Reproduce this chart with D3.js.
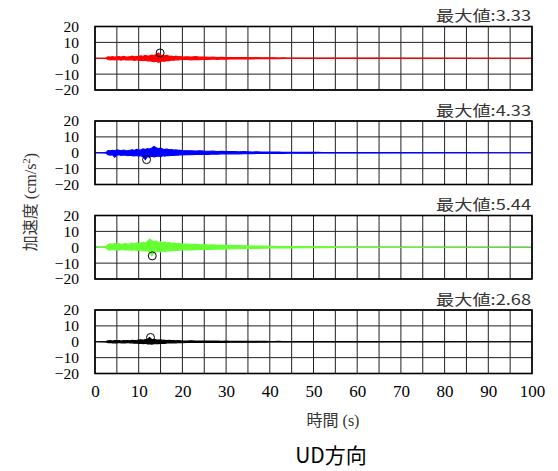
<!DOCTYPE html>
<html>
<head>
<meta charset="utf-8">
<script src="https://cdn.jsdelivr.net/npm/d3@7"></script>
<style>
  html, body { margin: 0; padding: 0; background: #fff; }
  svg { display: block; }
  svg text.serif, svg tspan.serif { font-family: "Liberation Serif", "Times New Roman", Times, "Tinos", "Noto Serif", "DejaVu Serif", serif; }
  svg text.cjk, svg tspan.cjk { font-family: "Noto Sans CJK JP", "Noto Sans", sans-serif; }
</style>
</head>
<body>
<svg id="chart" width="558" height="471"></svg>
<script>
// ---------------- DATA ----------------
const xTicks = [0, 10, 20, 30, 40, 50, 60, 70, 80, 90, 100];
const yTicks = [20, 10, 0, -10, -20];
const panelColors = ["#ff0000", "#0000ff", "#66ff33", "#000000"];
const maxLabels = ["最大値:3.33", "最大値:4.33", "最大値:5.44", "最大値:2.68"];
const peakTime = [14.9, 11.8, 13.1, 12.7];
const peakValue = [3.33, -4.33, -5.44, 2.68];

// sample times (s) of the read-off envelope
const times = [0,
  2.5,3,3.5,4,4.5,5,5.5,6,6.5,7,7.5,8,8.5,9,9.5,10,10.5,11,11.5,12,12.5,13,13.5,14,14.5,15,15.5,16,16.5,17,17.5,18,18.5,19,19.5,20,
  21,22,23,24,25,26,27,28,29,30,31,32,33,34,35,36,37,38,39,40,41,42,43,44,45,46,47,48,49,50,51,52,53,54,55,56,57,58,59,60,
  100];

// upper / lower peaks per sample (cm/s^2)
const redHi = [0,
  0.1,0.9,0.8,1.0,0.7,0.9,1.1,0.8,1.2,0.9,0.8,1.0,1.3,0.9,1.1,1.2,1.5,1.3,1.8,1.4,1.6,2.0,1.7,2.4,3.33,2.1,1.8,1.5,1.9,1.2,1.4,1.0,1.3,0.9,1.1,0.8,
  0.9,0.8,1.0,0.7,0.8,0.6,0.7,0.5,0.6,0.5,0.5,0.4,0.5,0.4,0.4,0.3,0.4,0.3,0.3,0.3,0.3,0.2,0.3,0.2,0.2,0.2,0.2,0.2,0.2,0.2,0.15,0.15,0.15,0.15,0.15,0.1,0.1,0.1,0.1,0.1,
  0];
const redLo = [0,
  -0.1,-0.8,-1.0,-0.7,-1.1,-0.8,-0.9,-1.2,-0.8,-1.0,-1.1,-0.9,-1.0,-1.3,-1.0,-1.4,-1.2,-1.6,-1.3,-1.7,-1.5,-1.9,-2.2,-1.8,-2.6,-2.0,-1.7,-1.9,-1.4,-1.5,-1.1,-1.3,-1.0,-1.1,-0.9,-0.8,
  -0.8,-1.0,-0.7,-0.9,-0.6,-0.8,-0.5,-0.7,-0.5,-0.6,-0.4,-0.5,-0.4,-0.4,-0.3,-0.4,-0.3,-0.3,-0.3,-0.3,-0.2,-0.3,-0.2,-0.2,-0.2,-0.2,-0.2,-0.2,-0.2,-0.2,-0.15,-0.15,-0.15,-0.15,-0.15,-0.1,-0.1,-0.1,-0.1,-0.1,
  0];
const blueHi = [0,
  0.2,1.4,1.2,1.6,1.3,1.8,1.5,1.2,1.7,1.4,1.3,1.6,1.9,1.5,2.2,1.7,1.9,2.4,2.0,2.6,2.3,3.0,4.0,3.1,2.6,2.9,2.4,2.1,2.3,1.9,2.0,1.7,1.8,1.5,1.6,1.4,
  1.3,1.2,1.1,1.2,1.0,0.9,1.0,0.8,0.9,0.7,0.8,0.7,0.6,0.7,0.6,0.5,0.6,0.5,0.5,0.4,0.4,0.4,0.35,0.35,0.3,0.3,0.3,0.3,0.25,0.25,0.25,0.2,0.2,0.2,0.2,0.2,0.15,0.15,0.15,0.15,
  0];
const blueLo = [0,
  -0.2,-1.3,-1.6,-1.2,-2.8,-1.5,-1.3,-1.7,-1.4,-1.6,-1.9,-1.5,-1.8,-2.0,-1.7,-2.2,-1.9,-2.5,-4.33,-2.4,-2.8,-2.2,-2.6,-2.3,-2.0,-2.4,-1.9,-2.1,-1.7,-1.9,-1.6,-1.7,-1.5,-1.6,-1.3,-1.4,
  -1.2,-1.3,-1.0,-1.1,-0.9,-1.0,-0.8,-0.9,-0.7,-0.8,-0.7,-0.6,-0.7,-0.6,-0.5,-0.6,-0.5,-0.4,-0.5,-0.4,-0.4,-0.35,-0.4,-0.3,-0.3,-0.3,-0.3,-0.25,-0.25,-0.25,-0.2,-0.2,-0.2,-0.2,-0.2,-0.15,-0.15,-0.15,-0.15,-0.15,
  0];
const greenHi = [0,
  0.3,1.8,2.2,1.9,2.4,2.0,2.3,1.8,2.1,2.5,1.9,2.2,2.6,2.1,2.8,2.3,2.7,3.1,2.6,3.6,5.2,4.1,3.4,3.8,3.0,3.5,2.9,3.2,2.7,3.0,2.5,2.7,2.3,2.5,2.2,2.1,
  2.0,1.8,1.9,1.6,1.7,1.4,1.5,1.3,1.2,1.3,1.1,1.0,1.1,0.9,0.9,0.8,0.8,0.7,0.7,0.6,0.6,0.5,0.5,0.5,0.4,0.4,0.4,0.35,0.35,0.3,0.3,0.3,0.25,0.25,0.25,0.2,0.2,0.2,0.2,0.2,
  0];
const greenLo = [0,
  -0.3,-1.5,-1.8,-1.4,-1.7,-1.5,-1.9,-1.6,-1.4,-1.8,-1.5,-1.7,-1.9,-1.6,-2.0,-1.8,-2.2,-2.0,-2.4,-2.2,-2.6,-5.44,-3.0,-2.8,-2.5,-2.9,-2.4,-2.6,-2.2,-2.4,-2.0,-2.2,-1.9,-2.0,-1.8,-1.7,
  -1.6,-1.7,-1.5,-1.4,-1.3,-1.4,-1.2,-1.1,-1.2,-1.0,-1.0,-0.9,-0.9,-0.8,-0.8,-0.7,-0.7,-0.6,-0.6,-0.5,-0.5,-0.5,-0.4,-0.4,-0.4,-0.35,-0.35,-0.3,-0.3,-0.3,-0.25,-0.25,-0.25,-0.2,-0.2,-0.2,-0.2,-0.2,-0.15,-0.15,
  0];
const blackHi = [0,
  0.1,0.6,0.7,0.5,0.8,0.6,0.7,0.5,0.8,0.6,0.7,0.6,0.9,0.7,0.8,1.0,1.2,1.0,1.4,1.6,2.68,1.3,1.5,1.2,1.1,1.3,1.0,0.9,0.8,0.9,0.7,0.8,0.6,0.7,0.6,0.5,
  0.5,0.6,0.4,0.5,0.4,0.5,0.4,0.4,0.3,0.4,0.3,0.35,0.3,0.3,0.3,0.25,0.3,0.25,0.25,0.2,0.2,0.25,0.2,0.2,0.2,0.2,0.15,0.2,0.15,0.15,0.15,0.15,0.15,0.1,0.1,0.1,0.1,0.1,0.1,0.1,
  0];
const blackLo = [0,
  -0.1,-0.6,-0.5,-0.7,-0.6,-0.8,-0.5,-0.7,-0.6,-0.7,-0.5,-0.8,-0.7,-0.9,-0.8,-1.1,-0.9,-1.2,-1.0,-1.4,-1.2,-1.5,-1.3,-1.1,-1.2,-1.0,-0.9,-1.0,-0.8,-0.7,-0.8,-0.6,-0.7,-0.6,-0.5,-0.6,
  -0.5,-0.4,-0.5,-0.4,-0.5,-0.4,-0.3,-0.4,-0.3,-0.4,-0.3,-0.3,-0.35,-0.3,-0.25,-0.3,-0.25,-0.2,-0.25,-0.2,-0.2,-0.2,-0.2,-0.2,-0.15,-0.2,-0.15,-0.15,-0.15,-0.15,-0.15,-0.1,-0.1,-0.1,-0.1,-0.1,-0.1,-0.1,-0.1,-0.1,
  0];

const seriesHi = [redHi, blueHi, greenHi, blackHi];
const seriesLo = [redLo, blueLo, greenLo, blackLo];

// ---------------- LAYOUT ----------------
const svg = d3.select("#chart");
const plotLeft = 95, plotRight = 532;
const panelTop0 = 26.5, panelStep = 94.5, panelH = 63.5;

const x = d3.scaleLinear().domain([0, 100]).range([plotLeft, plotRight]);
const gridX = d3.range(0, 101, 5);

for (let p = 0; p < 4; p++) {
  const top = panelTop0 + p * panelStep;
  const y = d3.scaleLinear().domain([-20, 20]).range([top + panelH, top]);
  const g = svg.append("g");

  // grid
  g.selectAll("line.vx").data(gridX).enter().append("line")
    .attr("x1", d => x(d)).attr("x2", d => x(d))
    .attr("y1", y(20)).attr("y2", y(-20))
    .attr("stroke", "#222").attr("stroke-width", 1);
  g.selectAll("line.hy").data(yTicks).enter().append("line")
    .attr("x1", x(0)).attr("x2", x(100))
    .attr("y1", d => y(d)).attr("y2", d => y(d))
    .attr("stroke", "#222").attr("stroke-width", 1);

  // waveform: band between read-off upper and lower peaks
  const hi = seriesHi[p], lo = seriesLo[p];
  const n = Math.min(times.length, hi.length, lo.length);
  const rows = d3.range(n).map(i => ({ t: times[i], hi: hi[i], lo: lo[i] }));
  g.append("path")
    .attr("d", d3.area().x(d => x(d.t)).y0(d => y(d.lo)).y1(d => y(d.hi))(rows))
    .attr("fill", panelColors[p])
    .attr("stroke", panelColors[p])
    .attr("stroke-width", 1.1)
    .attr("stroke-linejoin", "miter");

  // peak marker
  g.append("circle")
    .attr("cx", x(peakTime[p])).attr("cy", y(peakValue[p]))
    .attr("r", 4).attr("fill", "none")
    .attr("stroke", "#000").attr("stroke-width", 1);

  // frame
  g.append("rect")
    .attr("x", x(0)).attr("y", y(20))
    .attr("width", x(100) - x(0)).attr("height", y(-20) - y(20))
    .attr("fill", "none").attr("stroke", "#000").attr("stroke-width", 1.6);

  // y tick labels
  const ya = svg.append("g").attr("transform", `translate(${plotLeft},0)`)
    .call(d3.axisLeft(y).tickValues(yTicks).tickSize(0).tickPadding(16).tickFormat(d3.format("d")));
  ya.attr("font-family", null).attr("font-size", null);
  ya.select(".domain").remove();
  ya.selectAll("text").attr("class", "serif")
    .style("font-size", "15.5px").attr("fill", "#000");

  // max label
  svg.append("text").attr("class", "cjk")
    .attr("x", plotRight - 1).attr("y", top - 5.5)
    .attr("text-anchor", "end")
    .style("font-size", "14.5px").attr("fill", "#333")
    .attr("textLength", 95).attr("lengthAdjust", "spacingAndGlyphs")
    .text(maxLabels[p]);
}

// x tick labels
const lastBottom = panelTop0 + 3 * panelStep + panelH;
const xa = svg.append("g").attr("transform", `translate(0,${lastBottom})`)
  .call(d3.axisBottom(x).tickValues(xTicks).tickSize(0).tickPadding(11).tickFormat(d3.format("d")));
xa.attr("font-family", null).attr("font-size", null);
xa.select(".domain").remove();
xa.selectAll("text").attr("class", "serif")
  .style("font-size", "17px").attr("fill", "#000");

// x title
const xt = svg.append("text").attr("x", 333).attr("y", 426).attr("text-anchor", "middle")
  .style("font-size", "16px").attr("fill", "#333");
xt.append("tspan").attr("class", "cjk").text("時間");
xt.append("tspan").attr("class", "serif").text(" (s)");

// y title
const yt = svg.append("text").attr("transform", "translate(36,202) rotate(-90)")
  .attr("text-anchor", "middle").style("font-size", "16px").attr("fill", "#333");
yt.append("tspan").attr("class", "cjk").text("加速度");
yt.append("tspan").attr("class", "serif").text(" (cm/s");
yt.append("tspan").attr("class", "serif").style("font-size", "11px").attr("dy", -6).text("2");
yt.append("tspan").attr("class", "serif").attr("dy", 6).text(")");

// main title
svg.append("text").attr("class", "cjk").attr("x", 331).attr("y", 463).attr("text-anchor", "middle")
  .style("font-size", "21px").attr("fill", "#000").text("UD方向");
</script>
</body>
</html>
